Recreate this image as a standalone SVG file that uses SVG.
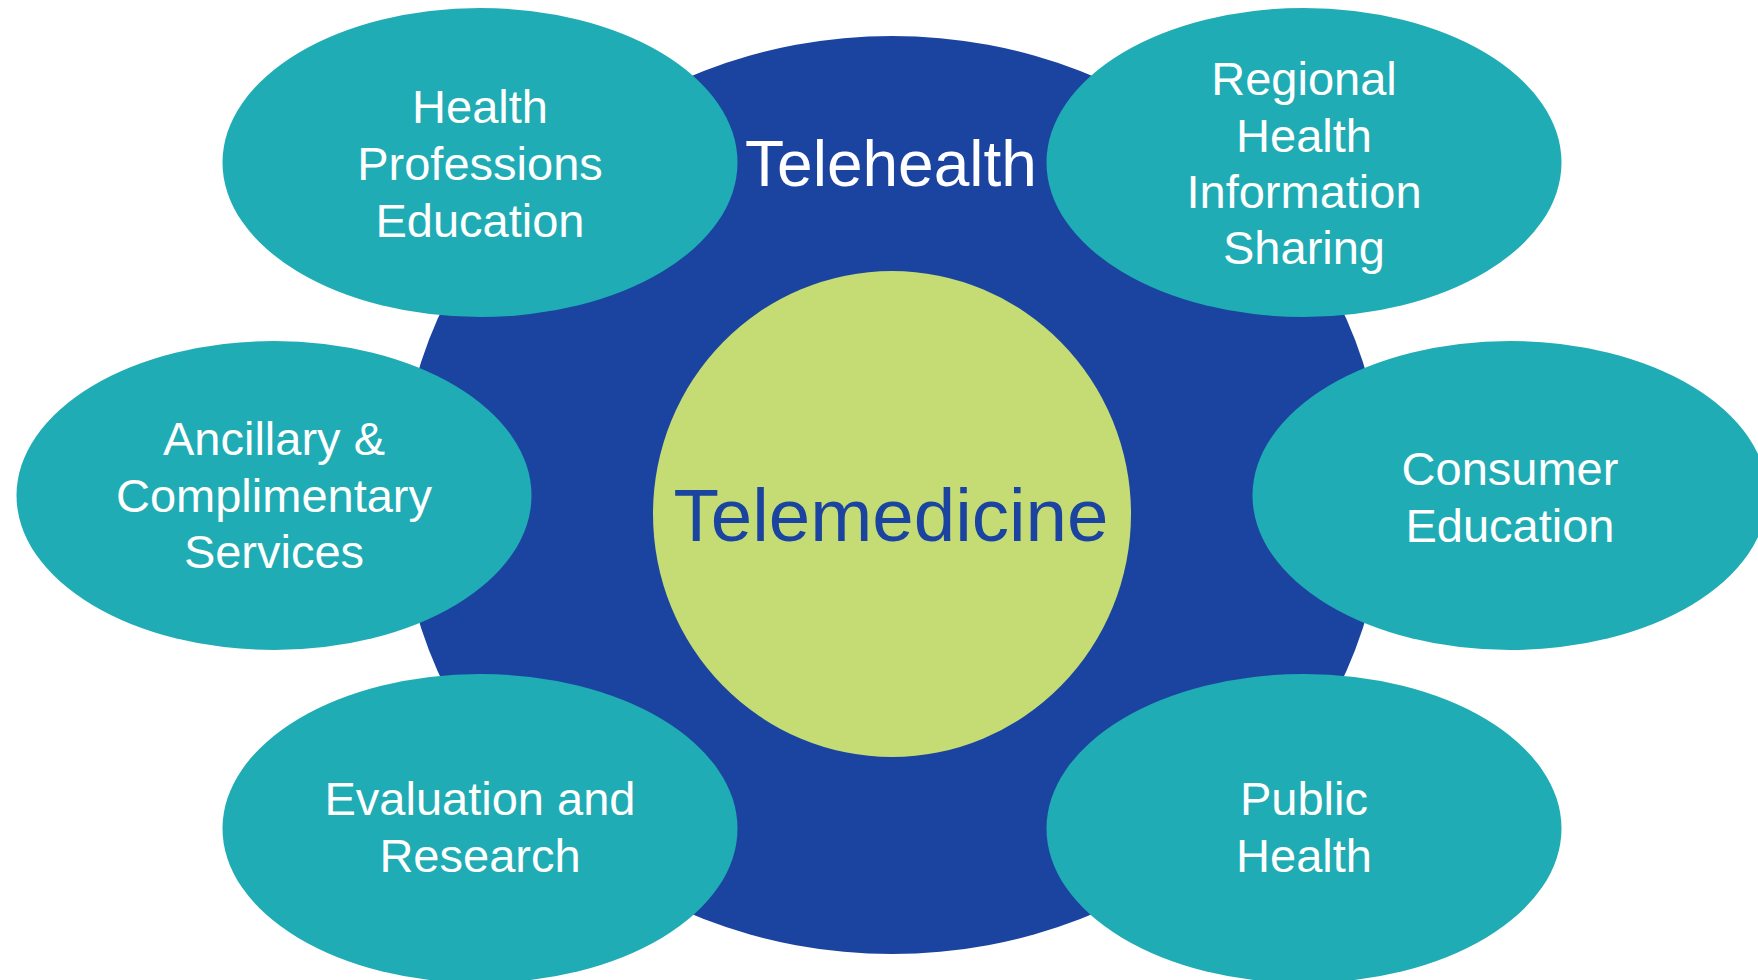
<svg xmlns="http://www.w3.org/2000/svg" width="1758" height="980" viewBox="0 0 1758 980">
<style>
.t{font-family:"Liberation Sans",Arial,sans-serif;fill:#ffffff;font-size:47px;text-anchor:middle}
.teal{fill:#20ACB4}
</style>
<rect width="1758" height="980" fill="#ffffff"/>
<g id="telehealth">
<ellipse cx="892" cy="495" rx="492" ry="459" fill="#1B44A0"/>
<text class="t" x="891" y="186" style="font-size:64px">Telehealth</text>
</g>
<g id="telemedicine">
<ellipse cx="892" cy="514" rx="239" ry="243" fill="#C5DC75"/>
<text class="t" x="891" y="541" style="font-size:74.5px;fill:#1B44A0">Telemedicine</text>
</g>
<g id="connectors"></g>
<g id="hpe">
<ellipse class="teal" cx="480" cy="162.5" rx="257.5" ry="154.5"/>
<text class="t" x="480" y="123">Health</text>
<text class="t" x="480" y="180">Professions</text>
<text class="t" x="480" y="237">Education</text>
</g>
<g id="regional">
<ellipse class="teal" cx="1304" cy="162.5" rx="257.5" ry="154.5"/>
<text class="t" x="1304" y="95">Regional</text>
<text class="t" x="1304" y="151.5">Health</text>
<text class="t" x="1304" y="208">Information</text>
<text class="t" x="1304" y="264">Sharing</text>
</g>
<g id="ancillary">
<ellipse class="teal" cx="274" cy="495.5" rx="257.5" ry="154.5"/>
<text class="t" x="274" y="455">Ancillary &amp;</text>
<text class="t" x="274" y="511.5">Complimentary</text>
<text class="t" x="274" y="568">Services</text>
</g>
<g id="consumer">
<ellipse class="teal" cx="1510" cy="495.5" rx="257.5" ry="154.5"/>
<text class="t" x="1510" y="485">Consumer</text>
<text class="t" x="1510" y="542">Education</text>
</g>
<g id="evaluation">
<ellipse class="teal" cx="480" cy="828.5" rx="257.5" ry="154.5"/>
<text class="t" x="480" y="815">Evaluation and</text>
<text class="t" x="480" y="871.5">Research</text>
</g>
<g id="public">
<ellipse class="teal" cx="1304" cy="828.5" rx="257.5" ry="154.5"/>
<text class="t" x="1304" y="815">Public</text>
<text class="t" x="1304" y="871.5">Health</text>
</g>
</svg>
